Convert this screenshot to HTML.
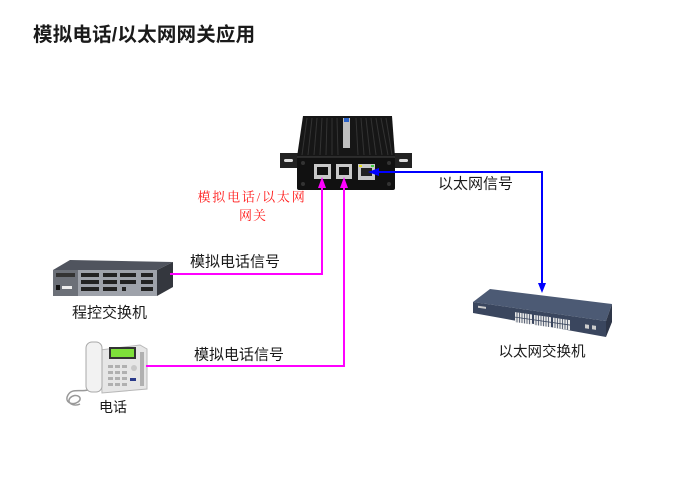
<!DOCTYPE html>
<html><head><meta charset="utf-8"><style>
html,body{margin:0;padding:0;background:#fff;}
svg{display:block;}
.t{font-family:"Liberation Sans","Noto Sans CJK SC",sans-serif;fill:#1a1a1a;}
</style></head><body>
<svg width="700" height="495" viewBox="0 0 700 495" xmlns="http://www.w3.org/2000/svg">
<rect width="700" height="495" fill="#fff"/>
<text class="t" x="33" y="41" font-size="19.5" font-weight="bold" letter-spacing="0.2">模拟电话/以太网网关应用</text>

<!-- Gateway -->
<g>
  <rect x="280" y="153" width="20" height="15" fill="#222"/>
  <rect x="284" y="159" width="9" height="3" rx="1.5" fill="#ddd"/>
  <rect x="393" y="153" width="19" height="15" fill="#222"/>
  <rect x="399" y="159" width="9" height="3" rx="1.5" fill="#ddd"/>
  <polygon points="303,116 392,116 395,157 297,157" fill="#161616"/>
  <g stroke="#333" stroke-width="1">
    <line x1="307" y1="118" x2="302" y2="155"/><line x1="312" y1="118" x2="308" y2="155"/>
    <line x1="317" y1="118" x2="314" y2="155"/><line x1="322" y1="118" x2="320" y2="155"/>
    <line x1="327" y1="118" x2="326" y2="155"/><line x1="332" y1="118" x2="332" y2="155"/>
    <line x1="337" y1="118" x2="338" y2="155"/><line x1="356" y1="118" x2="358" y2="155"/>
    <line x1="361" y1="118" x2="364" y2="155"/><line x1="366" y1="118" x2="370" y2="155"/>
    <line x1="371" y1="118" x2="376" y2="155"/><line x1="376" y1="118" x2="382" y2="155"/>
    <line x1="381" y1="118" x2="388" y2="155"/><line x1="386" y1="118" x2="392" y2="155"/>
  </g>
  <rect x="343" y="118" width="7" height="30" fill="#bfbfbf"/>
  <rect x="344" y="118" width="5" height="4" fill="#2a62c8"/>
  <rect x="297" y="157" width="98" height="33" rx="2" fill="#111"/>
  <line x1="297" y1="157" x2="395" y2="157" stroke="#444"/>
  <circle cx="303" cy="163" r="2" fill="#333"/><circle cx="389" cy="163" r="2" fill="#333"/>
  <circle cx="303" cy="184" r="2" fill="#333"/><circle cx="389" cy="184" r="2" fill="#333"/>
  <rect x="314" y="164" width="17" height="15" fill="#c8c8c8"/>
  <rect x="317" y="167" width="11" height="8" fill="#111"/>
  <rect x="336" y="164" width="16" height="15" fill="#c8c8c8"/>
  <rect x="339" y="167" width="10" height="8" fill="#111"/>
  <rect x="358" y="164" width="17" height="16" fill="#c8c8c8"/>
  <rect x="361" y="168" width="11" height="8" fill="#222"/>
  <rect x="359" y="165" width="3" height="2" fill="#e8e020"/>
  <rect x="371" y="165" width="3" height="2" fill="#40d040"/>
</g>

<!-- PBX -->
<g>
  <polygon points="53,270 70,260 173,262 157,270" fill="#50545e"/>
  <polygon points="157,270 173,262 173,287 157,296" fill="#34373e"/>
  <rect x="53" y="270" width="104" height="26" fill="#9ea2aa"/>
  <rect x="53" y="270" width="25" height="26" fill="#6c7078"/>
  <rect x="56" y="273" width="19" height="4" fill="#333"/>
  <rect x="56" y="285" width="4" height="5" fill="#111"/>
  <rect x="62" y="286" width="10" height="3" fill="#eee"/>
  <g fill="#222">
    <rect x="81" y="273" width="18" height="4"/><rect x="81" y="280" width="18" height="4"/><rect x="81" y="287" width="18" height="4"/>
    <rect x="103" y="273" width="14" height="4"/><rect x="103" y="280" width="14" height="4"/><rect x="103" y="287" width="14" height="4"/>
    <rect x="120" y="273" width="16" height="4"/><rect x="120" y="280" width="16" height="4"/><rect x="122" y="287" width="4" height="4"/>
    <rect x="141" y="273" width="12" height="4"/><rect x="141" y="280" width="12" height="4"/><rect x="141" y="287" width="12" height="4"/>
  </g>
</g>
<text class="t" x="72" y="317.5" font-size="15">程控交换机</text>

<!-- Phone -->
<g>
  <path d="M88,390 C80,392 72,388 68,395 C64,402 72,406 78,402 C84,398 76,392 70,398 C66,403 74,407 80,404" fill="none" stroke="#999" stroke-width="1.5"/>
  <polygon points="100,350 140,345 147,349 147,389 102,393" fill="#e6e6e6" stroke="#b8b8b8"/>
  <rect x="86" y="342" width="16" height="50" rx="6" fill="#f2f2f2" stroke="#a8a8a8"/>
  <rect x="109" y="347" width="27" height="12" fill="#333"/>
  <rect x="111" y="349" width="23" height="8" fill="#7ee03a"/>
  <g fill="#b0b0b0">
    <rect x="108" y="365" width="5" height="3"/><rect x="115" y="365" width="5" height="3"/><rect x="122" y="365" width="5" height="3"/>
    <rect x="108" y="371" width="5" height="3"/><rect x="115" y="371" width="5" height="3"/><rect x="122" y="371" width="5" height="3"/>
    <rect x="108" y="377" width="5" height="3"/><rect x="115" y="377" width="5" height="3"/><rect x="122" y="377" width="5" height="3"/>
    <rect x="108" y="383" width="5" height="3"/><rect x="115" y="383" width="5" height="3"/><rect x="122" y="383" width="5" height="3"/>
    <rect x="140" y="352" width="4" height="34"/>
  </g>
  <circle cx="134" cy="368" r="3" fill="#c8c8c8"/>
  <rect x="130" y="378" width="6" height="3" fill="#2a3a8a"/>
</g>
<text class="t" x="99" y="412" font-size="14">电话</text>

<!-- Switch -->
<g>
  <polygon points="473,302 490,289 612,304 606,321" fill="#4c5a74"/>
  <polygon points="606,321 612,304 612,322 606,337" fill="#2e3648"/>
  <polygon points="473,302 606,321 606,337 473,313" fill="#3a465e"/>
  <g transform="matrix(1,0.145,0,1,473,302)">
    <rect x="5" y="3" width="8" height="2" fill="#ccc"/>
    <g fill="#e8e8e8">
      <rect x="42" y="4" width="17" height="10"/>
      <rect x="61" y="4" width="17" height="10"/>
      <rect x="80" y="4" width="17" height="10"/>
    </g>
    <g stroke="#3a465e" stroke-width="0.8">
      <line x1="42" y1="9" x2="97" y2="9"/>
      <line x1="44" y1="4" x2="44" y2="14"/><line x1="46.5" y1="4" x2="46.5" y2="14"/><line x1="49" y1="4" x2="49" y2="14"/><line x1="51.5" y1="4" x2="51.5" y2="14"/><line x1="54" y1="4" x2="54" y2="14"/><line x1="56.5" y1="4" x2="56.5" y2="14"/>
      <line x1="63" y1="4" x2="63" y2="14"/><line x1="65.5" y1="4" x2="65.5" y2="14"/><line x1="68" y1="4" x2="68" y2="14"/><line x1="70.5" y1="4" x2="70.5" y2="14"/><line x1="73" y1="4" x2="73" y2="14"/><line x1="75.5" y1="4" x2="75.5" y2="14"/>
      <line x1="82" y1="4" x2="82" y2="14"/><line x1="84.5" y1="4" x2="84.5" y2="14"/><line x1="87" y1="4" x2="87" y2="14"/><line x1="89.5" y1="4" x2="89.5" y2="14"/><line x1="92" y1="4" x2="92" y2="14"/><line x1="94.5" y1="4" x2="94.5" y2="14"/>
    </g>
    <rect x="112" y="6" width="4" height="4" fill="#ccc"/>
    <rect x="119" y="6" width="4" height="4" fill="#ccc"/>
  </g>
</g>
<text class="t" x="542" y="356.5" font-size="14.5" text-anchor="middle">以太网交换机</text>

<!-- Connectors -->
<g stroke="#ff00ff" stroke-width="2" fill="none">
  <polyline points="170,274 322,274 322,186"/>
  <polyline points="146,366 344,366 344,186"/>
</g>
<polygon points="322,177 318,188 326,188" fill="#ff00ff"/>
<polygon points="344,177 340,188 348,188" fill="#ff00ff"/>
<g stroke="#0000ff" stroke-width="2" fill="none">
  <polyline points="376,172 542,172 542,284"/>
</g>
<polygon points="368,172 379,168 379,176" fill="#0000ff"/>
<polygon points="542,293 538,283 546,283" fill="#0000ff"/>

<!-- Labels -->
<text class="t" x="190" y="266.5" font-size="15">模拟电话信号</text>
<text class="t" x="194" y="359.5" font-size="15">模拟电话信号</text>
<text class="t" x="438" y="188.5" font-size="15">以太网信号</text>
<text x="252" y="201.5" font-size="13" fill="#ff1a1a" text-anchor="middle" letter-spacing="1.8" font-family="'Liberation Serif','Noto Serif CJK SC',serif">模拟电话/以太网</text>
<text x="253" y="220" font-size="13" fill="#ff1a1a" text-anchor="middle" letter-spacing="1" font-family="'Liberation Serif','Noto Serif CJK SC',serif">网关</text>
</svg>
</body></html>
